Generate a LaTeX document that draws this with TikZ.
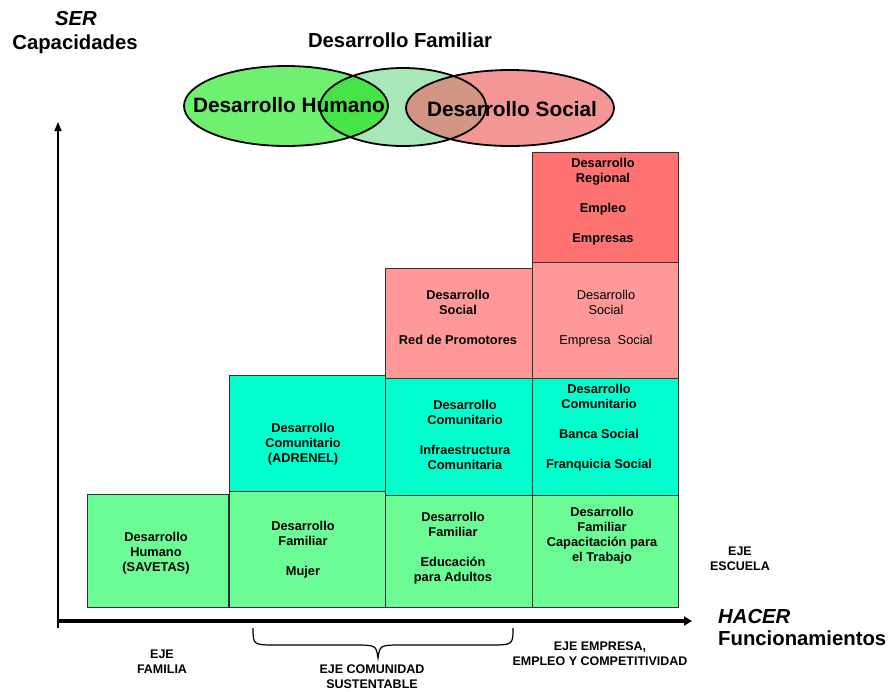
\documentclass[tikz,border=0pt]{standalone}
\usepackage{fontspec}
\setmainfont{Liberation Sans}
\usetikzlibrary{arrows.meta}
\definecolor{ellL}{RGB}{112,240,112}
\definecolor{ellM}{RGB}{168,232,184}
\definecolor{ellLM}{RGB}{70,228,70}
\definecolor{ellR}{RGB}{245,150,150}
\definecolor{ellMR}{RGB}{212,150,132}
\definecolor{bxgreen}{RGB}{108,252,150}
\definecolor{bxcyan}{RGB}{0,255,204}
\definecolor{bxpink}{RGB}{255,153,153}
\definecolor{bxred}{RGB}{255,114,114}
\definecolor{bxline}{RGB}{50,50,50}
\tikzset{
  cell/.style={draw=bxline, line width=1pt, inner sep=0pt},
  celltxt/.style={align=center, font=\bfseries\fontsize{12.8}{15}\selectfont, inner sep=0pt},
  celltxtn/.style={align=center, font=\fontsize{12.8}{15}\selectfont, inner sep=0pt},
  axlbl/.style={align=center, font=\bfseries\fontsize{12.5}{15}\selectfont, inner sep=0pt},
  biglbl/.style={font=\bfseries\fontsize{20.3}{18}\selectfont, inner sep=0pt},
  elltxt/.style={font=\bfseries\fontsize{20.8}{24}\selectfont, inner sep=0pt},
  ellline/.style={draw=black, line width=1.8pt}
}
\begin{document}
\begin{tikzpicture}[x=1pt,y=-1pt]
\useasboundingbox (0,0) rectangle (890,691);

% ---- titles on vertical axis
\node[biglbl, font=\bfseries\itshape\fontsize{20.3}{18}\selectfont] (ser) at (76,19) {SER};
\node[biglbl] (cap) at (75,44) {Capacidades};
\node[biglbl] (dfam) at (400,40) {Desarrollo Familiar};

% ---- ellipses
\fill[ellL] (286,106) ellipse [x radius=102, y radius=40];
\fill[ellM] (403,107) ellipse [x radius=83, y radius=39];
\fill[ellR] (510,108) ellipse [x radius=104, y radius=38];
\begin{scope}
  \clip (286,106) ellipse [x radius=102, y radius=40];
  \fill[ellLM] (403,107) ellipse [x radius=83, y radius=39];
\end{scope}
\begin{scope}
  \clip (510,108) ellipse [x radius=104, y radius=38];
  \fill[ellMR] (403,107) ellipse [x radius=83, y radius=39];
\end{scope}
\draw[ellline] (286,106) ellipse [x radius=102, y radius=40];
\draw[ellline] (403,107) ellipse [x radius=83, y radius=39];
\draw[ellline] (510,108) ellipse [x radius=104, y radius=38];
\node[elltxt] (dh) at (289,105) {Desarrollo Humano};
\node[elltxt] (ds) at (512,109) {Desarrollo Social};

% ---- cells
\node[cell, fill=bxgreen, minimum width=141pt, minimum height=113pt] (c1g) at (158,550.5) {};
\node[cell, fill=bxgreen, minimum width=156pt, minimum height=116pt] (c2g) at (307,549) {};
\node[cell, fill=bxcyan,  minimum width=156pt, minimum height=116pt] (c2c) at (307,433) {};
\node[cell, fill=bxgreen, minimum width=147pt, minimum height=112pt] (c3g) at (458.5,551) {};
\node[cell, fill=bxcyan,  minimum width=147pt, minimum height=117pt] (c3c) at (458.5,436.5) {};
\node[cell, fill=bxpink,  minimum width=147pt, minimum height=110pt] (c3p) at (458.5,323) {};
\node[cell, fill=bxgreen, minimum width=146pt, minimum height=112pt] (c4g) at (605.5,551) {};
\node[cell, fill=bxcyan,  minimum width=146pt, minimum height=117pt] (c4c) at (605.5,436.5) {};
\node[cell, fill=bxpink,  minimum width=146pt, minimum height=116pt] (c4p) at (605.5,320) {};
\node[cell, fill=bxred,   minimum width=146pt, minimum height=110pt] (c4r) at (605.5,207) {};

% ---- cell texts
\node[celltxt] (t1g) at (156,553) {Desarrollo\\Humano\\(SAVETAS)};
\node[celltxt] (t2g) at (303,550) {Desarrollo\\Familiar\\[15pt]Mujer};
\node[celltxt] (t2c) at (303,444) {Desarrollo\\Comunitario\\(ADRENEL)};
\node[celltxt] (t3g) at (453,548.5) {Desarrollo\\Familiar\\[15pt]Educación\\para Adultos};
\node[celltxt] (t3c) at (465,435) {Desarrollo\\Comunitario\\[15pt]Infraestructura\\Comunitaria};
\node[celltxt] (t3p) at (458,317.5) {Desarrollo\\Social\\[15pt]Red de Promotores};
\node[celltxt] (t4g) at (602,535.5) {Desarrollo\\Familiar\\Capacitación para\\el Trabajo};
\node[celltxt] (t4c) at (599,427.5) {Desarrollo\\Comunitario\\[15pt]Banca Social\\[15pt]Franquicia Social};
\node[celltxtn] (t4p) at (606,319) {Desarrollo\\Social\\[15pt]Empresa\ \ Social};
\node[celltxt] (t4r) at (603,201.5) {Desarrollo\\Regional\\[15pt]Empleo\\[15pt]Empresas};

% ---- axes
\coordinate (o) at (58,628);
\coordinate (ytip) at (58,122);
\coordinate (xo) at (58,621);
\coordinate (xtip) at (692,621);
\draw[line width=1.6pt, -{Triangle[length=9pt,width=7pt]}] (o) -- (ytip);
\draw[line width=3.5pt, -{Triangle[length=8pt,width=9pt]}] (xo) -- (xtip);

% ---- brace
\coordinate (bl) at (253,628);
\coordinate (br) at (513,628);
\coordinate (btip) at (378,658);
\draw[line width=1.2pt] (bl) .. controls (253,645) .. (277,645) -- (353,645)
  .. controls (376,645) .. (btip) .. controls (380,645) .. (403,645) -- (489,645)
  .. controls (513,645) .. (br);

% ---- axis labels
\node[axlbl] (ef) at (162,662) {EJE\\FAMILIA};
\node[axlbl] (ec) at (372,677) {EJE COMUNIDAD\\SUSTENTABLE};
\node[axlbl] (ee) at (600,653.5) {EJE EMPRESA,\\EMPLEO Y COMPETITIVIDAD};
\node[axlbl] (es) at (740,558.5) {EJE\\ESCUELA};
\node[biglbl, anchor=west, font=\bfseries\itshape\fontsize{20.3}{18}\selectfont] (hac) at (718,616) {HACER};
\node[biglbl, anchor=west] (fun) at (718,638) {Funcionamientos};
\end{tikzpicture}
\end{document}
